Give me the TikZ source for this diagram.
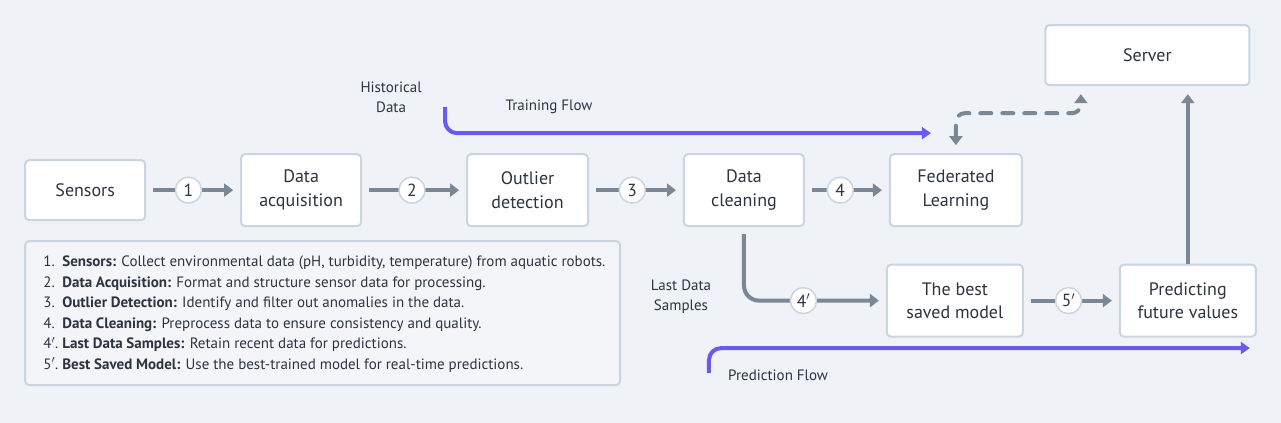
\documentclass[tikz,border=0pt]{standalone}
\usepackage{fontspec}
\setmainfont{PT Sans}
\usetikzlibrary{arrows.meta,positioning}
\definecolor{bgcol}{HTML}{EFF2F6}
\definecolor{boxline}{HTML}{CBD5E0}
\definecolor{flowgrey}{HTML}{7A8795}
\definecolor{flowpurple}{HTML}{6A5AF4}
\definecolor{ink}{HTML}{2D3440}
\definecolor{legendfill}{HTML}{F3F5F8}
\begin{document}
\begin{tikzpicture}[x=1pt, y=-1pt,
    stage/.style={draw=boxline, line width=2pt, fill=white, rounded corners=4pt,
        minimum height=72pt, inner sep=0pt, align=center, text=ink,
        font=\fontsize{18}{23.5}\selectfont},
    num/.style={circle, draw=boxline, line width=1.5pt, fill=white, minimum size=26pt,
        inner sep=0pt, text=ink, font=\fontsize{17.5}{20}\selectfont},
    flow/.style={draw=flowgrey, line width=4pt, -{Triangle[length=9pt,width=13pt]},
        shorten <=7pt, shorten >=7pt},
    link/.style={draw=flowgrey, line width=4pt, line cap=round, dash pattern=on 11pt off 11pt,
        rounded corners=9pt, {Triangle[length=9pt,width=13pt]}-{Triangle[length=9pt,width=13pt]},
        shorten <=8pt, shorten >=8pt},
    purple/.style={draw=flowpurple, line width=4pt, rounded corners=12pt,
        -{Triangle[length=9pt,width=12pt]}},
    note/.style={inner sep=0pt, align=center, text=ink, font=\fontsize{15}{20}\selectfont},
    item/.style={inner sep=0pt, text=ink, font=\fontsize{15}{20}\selectfont}]
    \filldraw[bgcol] (0,0) rectangle (1281,422);
    % stages of the pipeline
    \node[stage, minimum width=120pt, minimum height=60pt] (sensors) at (85,190) {Sensors};
    \node[stage, minimum width=120pt] (acq) at (301,190) {Data\\acquisition};
    \node[stage, minimum width=121pt] (outlier) at (527.5,190) {Outlier\\detection};
    \node[stage, minimum width=120pt] (clean) at (744,190) {Data\\cleaning};
    \node[stage, minimum width=132pt] (fed) at (956,190) {Federated\\Learning};
    \node[stage, minimum width=204pt, minimum height=60pt] (server) at (1147.5,55) {Server};
    \node[stage, minimum width=136pt] (best) at (955,300.5) {The best\\saved model};
    \node[stage, minimum width=136pt] (predict) at (1188,300.5) {Predicting\\future values};
    % numbered arrows
    \draw[flow] (sensors) -- node[num, pos=0.45] (n1) {1} (acq);
    \draw[flow] (acq) -- node[num, pos=0.48] (n2) {2} (outlier);
    \draw[flow] (outlier) -- node[num, pos=0.46] (n3) {3} (clean);
    \draw[flow] (clean) -- node[num, pos=0.42] (n4) {4} (fed);
    \draw[flow] (best) -- node[num, pos=0.47] (n5) {5$'$} (predict);
    \draw[flow, rounded corners=15pt] (clean.south) |- (best.west);
    \node[num] (n4b) at (803.5,300.5) {4$'$};
    \draw[flow, shorten <=0pt, shorten >=8pt] (predict.north) -- (predict.north |- server.south);
    % fed <-> server
    \coordinate (dmid) at (1081,113);
    \draw[link] (fed.north) |- (dmid) -- (dmid |- server.south);
    % the two flows
    \coordinate (tstart) at (445,107);
    \coordinate (tend) at (931,133);
    \draw[purple] (tstart) |- (tend);
    \coordinate (pstart) at (709,373);
    \coordinate (pend) at (1250,348);
    \draw[purple] (pstart) |- (pend);
    \node[note] (hist) at (391,97) {Historical\\Data};
    \node[note] (train) at (549,107) {Training Flow};
    \node[note] (last) at (681,297) {Last Data\\Samples};
    \node[note, anchor=west] (pred) at (728,375) {Prediction Flow};
    % legend
    \node[draw=boxline, line width=2pt, fill=legendfill, rounded corners=4pt,
        minimum width=595pt, minimum height=144pt] (legend) at (322.5,313) {};
    \foreach \n/\head/\body [count=\i from 0] in {
        1./Sensors/{Collect environmental data (pH, turbidity, temperature) from aquatic robots.},
        2./Data Acquisition/{Format and structure sensor data for processing.},
        3./Outlier Detection/{Identify and filter out anomalies in the data.},
        4./Data Cleaning/{Preprocess data to ensure consistency and quality.},
        4$'$./Last Data Samples/{Retain recent data for predictions.},
        5$'$./Best Saved Model/{Use the best-trained model for real-time predictions.}}{
        \node[item, anchor=base west] (item\i) at (43,266.5+20.5*\i)
            {\makebox[19pt][l]{\n}\textbf{\head:} \body};
    }
\end{tikzpicture}
\end{document}
